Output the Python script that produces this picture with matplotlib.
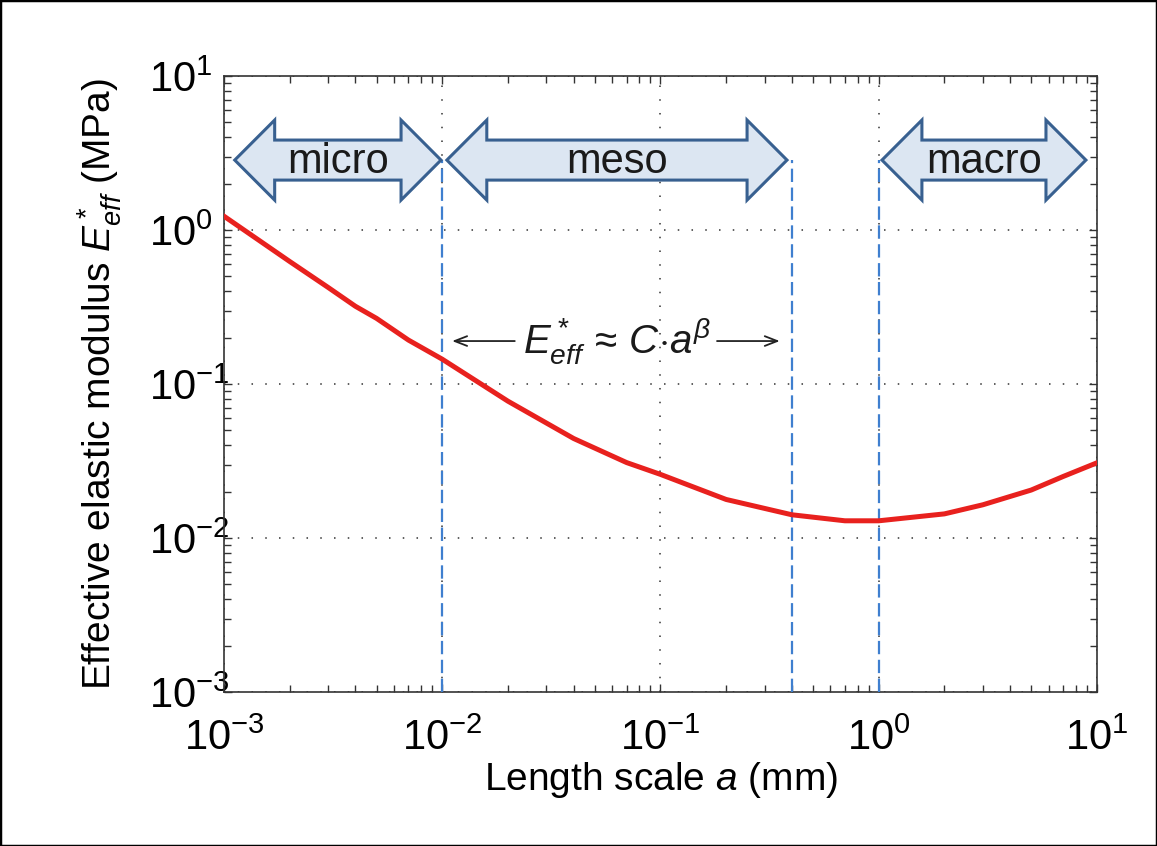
import numpy as np
import matplotlib
matplotlib.use("Agg")
import matplotlib.pyplot as plt
from matplotlib.patches import Polygon, Rectangle
from matplotlib.transforms import blended_transform_factory
from matplotlib.ticker import LogLocator, LogFormatterMathtext, NullFormatter

plt.rcParams['font.family'] = ['Liberation Sans', 'DejaVu Sans']
plt.rcParams['mathtext.fontset'] = 'custom'
plt.rcParams['mathtext.rm'] = 'Liberation Sans'
plt.rcParams['mathtext.it'] = 'Liberation Sans:italic'
plt.rcParams['mathtext.bf'] = 'Liberation Sans:bold'

# ---- data ----
length_scale = [0.001, 0.002, 0.003, 0.004, 0.005, 0.007, 0.01, 0.02, 0.04,
                0.07, 0.1, 0.2, 0.4, 0.7, 1.0, 2.0, 3.0, 5.0, 7.0, 10.0]
modulus = [1.23, 0.625, 0.424, 0.32, 0.267, 0.193, 0.145, 0.0774, 0.0443,
           0.0309, 0.0259, 0.0178, 0.01416, 0.01294, 0.01294, 0.01435,
           0.01644, 0.0205, 0.0251, 0.0308]
boundaries = [0.01, 0.4, 1.0]
regimes = ["micro", "meso", "macro"]
regime_ranges = [(0.00112, 0.00987), (0.0105, 0.38), (1.035, 8.9)]

fig = plt.figure(figsize=(11.57, 8.46), dpi=100)
ax = fig.add_axes([0.1936, 0.1820, 0.7545, 0.7281])
ax.set_xscale('log')
ax.set_yscale('log')
ax.set_xlim(1e-3, 1e1)
ax.set_ylim(1e-3, 1e1)

ax.grid(True, which='major', color='#333333', linestyle=(0, (1, 8)), linewidth=1.1)

ax.plot(length_scale, modulus, color='#E8211E', linewidth=3.6, zorder=5,
        solid_joinstyle='round')

bt = blended_transform_factory(ax.transData, ax.transAxes)
ytop = 0.8636
for b in boundaries:
    ax.plot([b, b], [0, ytop], transform=bt, color='#3F7FCF', linewidth=1.6,
            dashes=(6, 2.5), zorder=4)

# block double arrows
head_dec = 0.183
body_h = 0.0325
head_h = 0.065
for name, (x0, x1) in zip(regimes, regime_ranges):
    l0, l1 = np.log10(x0), np.log10(x1)
    pts_log = [(l0, ytop), (l0 + head_dec, ytop + head_h), (l0 + head_dec, ytop + body_h),
               (l1 - head_dec, ytop + body_h), (l1 - head_dec, ytop + head_h), (l1, ytop),
               (l1 - head_dec, ytop - head_h), (l1 - head_dec, ytop - body_h),
               (l0 + head_dec, ytop - body_h), (l0 + head_dec, ytop - head_h)]
    pts = [(10 ** px, py) for px, py in pts_log]
    poly = Polygon(pts, closed=True, transform=bt, facecolor='#DCE6F2',
                   edgecolor='#386090', linewidth=2.2, zorder=6, joinstyle='miter')
    ax.add_patch(poly)
    ax.text(10 ** ((l0 + l1) / 2), ytop - 0.003, name, transform=bt, ha='center',
            va='center', fontsize=30, color='#1a1a1a', zorder=7)

# power-law annotation
ya = 0.5698
ax.text(0.0632, ya, r'$E^*_{eff}\,\approx\,C{\cdot}a^{\beta}$', transform=bt,
        ha='center', va='center', fontsize=29, color='#1a1a1a', zorder=7)
ax.annotate('', xy=(0.0111, ya), xytext=(0.0215, ya), xycoords=bt, textcoords=bt,
            arrowprops=dict(arrowstyle='->,head_length=0.9,head_width=0.35',
                            color='#222222', lw=1.3, shrinkA=0, shrinkB=0))
ax.annotate('', xy=(0.352, ya), xytext=(0.1816, ya), xycoords=bt, textcoords=bt,
            arrowprops=dict(arrowstyle='->,head_length=0.9,head_width=0.35',
                            color='#222222', lw=1.3, shrinkA=0, shrinkB=0))

# ticks
for axis in (ax.xaxis, ax.yaxis):
    axis.set_major_locator(LogLocator(base=10, numticks=10))
    axis.set_minor_locator(LogLocator(base=10, subs=np.arange(2, 10), numticks=10))
    axis.set_minor_formatter(NullFormatter())
    axis.set_major_formatter(LogFormatterMathtext())
ax.tick_params(which='both', direction='in', top=True, right=True,
               color='#333333', width=1.0)
ax.tick_params(which='major', length=6)
ax.tick_params(which='minor', length=5)
ax.tick_params(axis='x', which='major', labelsize=30, pad=19)
ax.tick_params(axis='y', which='major', labelsize=30, pad=54)
for lbl in ax.get_yticklabels():
    lbl.set_horizontalalignment('left')
for s in ax.spines.values():
    s.set_color('#333333')
    s.set_linewidth(1.2)

ax.set_xlabel('Length scale $a$ (mm)', fontsize=28, labelpad=1)
ax.set_ylabel('Effective elastic modulus $E^*_{eff}$ (MPa)', fontsize=28, labelpad=18)

fig.add_artist(Rectangle((0, 0), 1, 1, transform=fig.transFigure, fill=False,
                         edgecolor='black', linewidth=2.5))

fig.savefig('out.png', dpi=100)
